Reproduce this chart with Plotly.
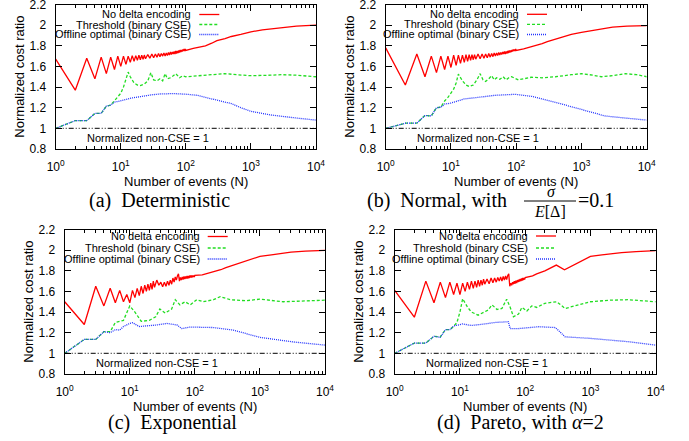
import plotly.graph_objects as go

W, H = 689, 441

# x values (number of events)
N_zig = list(range(1, 25)) + list(range(26, 101, 2))
N_tail = [130, 150, 200, 250, 300, 400, 500, 700, 1000, 1500, 2000, 3000, 5000, 7000, 10000]
red_n = N_zig + N_tail

# ---- (a) Deterministic
red_a = [1.67, 1.37, 1.68, 1.48, 1.69, 1.53, 1.69, 1.57, 1.70, 1.60, 1.70, 1.62, 1.70, 1.64, 1.705, 1.65,
         1.705, 1.66, 1.71, 1.665, 1.71, 1.67, 1.71, 1.675,
         1.715, 1.68, 1.72, 1.685, 1.72, 1.69, 1.725, 1.695, 1.725, 1.70, 1.73, 1.70, 1.73, 1.705, 1.735, 1.71,
         1.74, 1.715, 1.74, 1.72, 1.745, 1.72, 1.75, 1.725, 1.75, 1.73, 1.755, 1.735, 1.76, 1.74, 1.76, 1.745,
         1.765, 1.75, 1.77, 1.75, 1.77, 1.755,
         1.775, 1.785, 1.80, 1.825, 1.85, 1.87, 1.89, 1.91, 1.935, 1.955, 1.965, 1.978, 1.99, 1.995, 2.0]
green_n_a = [1, 2, 3, 4, 5, 6, 7, 8, 9, 10, 11, 12, 13, 14, 16, 18, 20, 23, 26, 29, 32, 36, 40, 44, 48, 52,
             58, 64, 70, 80, 90, 100, 150, 200, 300, 400, 600, 1000, 2000, 3000, 5000, 10000]
green_a = [1.0, 1.075, 1.075, 1.145, 1.145, 1.215, 1.225, 1.27, 1.30, 1.34, 1.40, 1.47, 1.545, 1.50, 1.44,
           1.42, 1.415, 1.43, 1.46, 1.54, 1.47, 1.46, 1.48, 1.46, 1.53, 1.48, 1.49, 1.51, 1.53, 1.49, 1.51,
           1.50, 1.51, 1.51, 1.52, 1.53, 1.52, 1.51, 1.515, 1.52, 1.515, 1.50]
blue_n_a = [1, 2, 3, 4, 5, 6, 7, 8, 9, 10, 12, 15, 20, 30, 40, 65, 100, 150, 200, 300, 500, 700, 1000,
            2000, 3000, 5000, 10000]
blue_a = [1.0, 1.075, 1.075, 1.145, 1.145, 1.215, 1.225, 1.255, 1.26, 1.265, 1.28, 1.295, 1.31, 1.325,
          1.333, 1.337, 1.331, 1.32, 1.30, 1.276, 1.24, 1.20, 1.165, 1.13, 1.115, 1.10, 1.08]

# ---- (b) Normal
red_b = [1.78, 1.42, 1.72, 1.50, 1.70, 1.54, 1.70, 1.57, 1.70, 1.59, 1.71, 1.61, 1.71, 1.63, 1.71, 1.64,
         1.715, 1.65, 1.715, 1.66, 1.715, 1.665, 1.715, 1.67,
         1.72, 1.675, 1.72, 1.68, 1.72, 1.685, 1.725, 1.69, 1.725, 1.695, 1.73, 1.70, 1.73, 1.705, 1.735, 1.71,
         1.735, 1.715, 1.74, 1.72, 1.745, 1.72, 1.745, 1.725, 1.75, 1.73, 1.755, 1.735, 1.755, 1.74, 1.76, 1.745,
         1.765, 1.75, 1.765, 1.75, 1.77, 1.755,
         1.77, 1.78, 1.80, 1.82, 1.84, 1.865, 1.885, 1.91, 1.93, 1.95, 1.965, 1.98, 1.99, 1.993, 1.995]
green_n_b = [1, 2, 3, 4, 5, 6, 7, 8, 9, 10, 11, 12, 13, 15, 17, 19, 22, 25, 28, 31, 34, 38, 42, 46, 50, 56,
             63, 70, 77, 85, 95, 108, 130, 170, 250, 400, 700, 1000, 1500, 2000, 3000, 4700, 7000, 10000]
green_b = [1.0, 1.05, 1.05, 1.125, 1.12, 1.20, 1.205, 1.265, 1.30, 1.34, 1.38, 1.44, 1.525, 1.46, 1.42,
           1.405, 1.42, 1.47, 1.53, 1.47, 1.455, 1.48, 1.51, 1.47, 1.49, 1.475, 1.50, 1.47, 1.49, 1.50,
           1.485, 1.47, 1.48, 1.495, 1.49, 1.50, 1.52, 1.53, 1.515, 1.50, 1.51, 1.53, 1.52, 1.50]
blue_n_b = [1, 2, 3, 4, 5, 6, 7, 8, 10, 16, 26, 47, 96, 173, 440, 1000, 2300, 4700, 10000]
blue_b = [1.0, 1.05, 1.05, 1.125, 1.12, 1.20, 1.205, 1.235, 1.245, 1.285, 1.30, 1.32, 1.33, 1.31, 1.245,
          1.18, 1.12, 1.10, 1.08]

# ---- (c) Exponential
red_c = [1.50, 1.28, 1.65, 1.46, 1.63, 1.49, 1.61, 1.50, 1.57, 1.49, 1.61, 1.54, 1.63, 1.56, 1.65, 1.58,
         1.66, 1.60, 1.67, 1.61, 1.68, 1.62, 1.70, 1.64,
         1.71, 1.66, 1.69, 1.645, 1.69, 1.65, 1.70, 1.66, 1.71, 1.67, 1.73, 1.69, 1.74, 1.71, 1.75, 1.77,
         1.70, 1.735, 1.71, 1.74, 1.715, 1.745, 1.72, 1.745, 1.725, 1.75, 1.725, 1.75, 1.73, 1.755, 1.735, 1.755,
         1.735, 1.755, 1.74, 1.755, 1.74, 1.755,
         1.76, 1.77, 1.79, 1.81, 1.83, 1.855, 1.875, 1.905, 1.94, 1.955, 1.965, 1.98, 1.99, 1.995, 1.997]
green_n_c = [1, 2, 3, 4, 5, 6, 8, 10, 12, 15, 20, 25, 29, 35, 44, 50, 59, 71, 85, 107, 135, 194, 245, 350,
             600, 1000, 2300, 5000, 10000]
green_c = [1.0, 1.135, 1.135, 1.21, 1.21, 1.30, 1.32, 1.46, 1.40, 1.31, 1.32, 1.355, 1.43, 1.39, 1.43, 1.52,
           1.47, 1.50, 1.47, 1.52, 1.50, 1.52, 1.55, 1.52, 1.51, 1.525, 1.50, 1.51, 1.515]
blue_n_c = [1, 2, 3, 4, 5, 6, 7, 8, 10, 11, 14, 18, 26, 37, 53, 63, 85, 194, 390, 1000, 3300, 10000]
blue_c = [1.0, 1.135, 1.135, 1.21, 1.20, 1.23, 1.225, 1.26, 1.29, 1.297, 1.26, 1.265, 1.275, 1.29, 1.275,
          1.24, 1.255, 1.25, 1.225, 1.155, 1.11, 1.08]

# ---- (d) Pareto
red_d = [1.61, 1.35, 1.70, 1.49, 1.69, 1.54, 1.69, 1.57, 1.68, 1.57, 1.68, 1.60, 1.69, 1.62, 1.70, 1.63,
         1.70, 1.64, 1.71, 1.65, 1.71, 1.66, 1.72, 1.67,
         1.72, 1.675, 1.73, 1.685, 1.73, 1.69, 1.735, 1.70, 1.74, 1.70, 1.745, 1.71, 1.75, 1.715, 1.755, 1.77,
         1.65, 1.68, 1.66, 1.69, 1.67, 1.70, 1.675, 1.705, 1.68, 1.71, 1.69, 1.715, 1.695, 1.72, 1.70, 1.725,
         1.705, 1.73, 1.71, 1.73, 1.715, 1.735,
         1.75, 1.77, 1.80, 1.83, 1.855, 1.81, 1.84, 1.89, 1.94, 1.955, 1.965, 1.975, 1.985, 1.99, 1.995]
green_n_d = [1, 2, 3, 4, 5, 6, 7, 8, 9, 10, 11, 13, 15, 19, 27, 31, 37, 44, 52, 59, 66, 79, 89, 106, 126,
             150, 200, 305, 410, 650, 1000, 2000, 3800, 10000]
green_d = [1.0, 1.10, 1.10, 1.165, 1.16, 1.23, 1.23, 1.26, 1.30, 1.40, 1.53, 1.45, 1.40, 1.37, 1.42, 1.47,
           1.425, 1.435, 1.525, 1.445, 1.355, 1.38, 1.445, 1.41, 1.46, 1.445, 1.485, 1.50, 1.435, 1.47,
           1.50, 1.515, 1.52, 1.50]
blue_n_d = [1, 2, 3, 4, 5, 6, 7, 8, 11, 15, 24, 35, 55, 59, 79, 160, 290, 410, 1000, 3800, 10000]
blue_d = [1.0, 1.10, 1.10, 1.165, 1.155, 1.23, 1.23, 1.265, 1.285, 1.27, 1.285, 1.30, 1.306, 1.24, 1.24,
          1.258, 1.25, 1.16, 1.145, 1.113, 1.08]

base_n = [1, 10000]
base_v = [1, 1]

series_names = ["No delta encoding", "Threshold (binary CSE)", "Offline optimal (binary CSE)"]
y_tickvals = [0.8, 1, 1.2, 1.4, 1.6, 1.8, 2, 2.2]
y_ticktext = ["0.8", "1", "1.2", "1.4", "1.6", "1.8", "2", "2.2"]
x_tickvals = [1, 10, 100, 1000, 10000]
x_ticktext = ["10<sup>0</sup>", "10<sup>1</sup>", "10<sup>2</sup>", "10<sup>3</sup>", "10<sup>4</sup>"]
x_minor = [m * 10 ** k for k in range(4) for m in range(2, 10)]

styles = [dict(color="#ff0000", width=1.3),
          dict(color="#22dd22", width=1.3, dash="3px,2px"),
          dict(color="#2233ff", width=1.3, dash="1px,1px")]

# plot frames in pixels: left, right, top, bottom, legend rows, legend text right edge
panels = [
    dict(l=55.7, r=316.0, t=4.5, b=149.0, rows=[10.0, 20.0, 30.0], lx=137.6,
         data=[(red_n, red_a), (green_n_a, green_a), (blue_n_a, blue_a)]),
    dict(l=385.7, r=646.7, t=4.5, b=149.0, rows=[9.8, 19.8, 30.0], lx=135.3,
         data=[(red_n, red_b), (green_n_b, green_b), (blue_n_b, blue_b)]),
    dict(l=64.7, r=325.0, t=229.5, b=374.0, rows=[7.0, 18.5, 29.5], lx=137.0,
         data=[(red_n, red_c), (green_n_c, green_c), (blue_n_c, blue_c)]),
    dict(l=394.7, r=655.7, t=229.5, b=374.0, rows=[6.5, 18.5, 29.5], lx=135.3,
         data=[(red_n, red_d), (green_n_d, green_d), (blue_n_d, blue_d)]),
]

def px(x):
    return x / W

def py(y):
    return 1 - y / H

fig = go.Figure()
annotations = []
shapes = []
sans = "Liberation Sans, Arial, sans-serif"
serif = "Liberation Serif, Times New Roman, serif"

for i, p in enumerate(panels):
    sfx = "" if i == 0 else str(i + 1)
    xa, ya = "x" + sfx, "y" + sfx
    for (n, v), st, nm in zip(p["data"], styles, series_names):
        fig.add_trace(go.Scatter(x=n, y=v, mode="lines", line=st, name=nm,
                                 showlegend=False, xaxis=xa, yaxis=ya))
    fig.add_trace(go.Scatter(x=base_n, y=base_v, mode="lines", showlegend=False,
                             line=dict(color="#333333", width=1.2, dash="5px,2px,1px,2px,1px,2px"),
                             xaxis=xa, yaxis=ya))
    fig.layout["xaxis" + sfx] = dict(
        domain=[px(p["l"]), px(p["r"])], anchor=ya, type="log", range=[0, 4], automargin=False,
        showline=True, linecolor="black", linewidth=1, mirror="ticks",
        ticks="inside", ticklen=6, tickcolor="black", tickvals=x_tickvals, ticktext=x_ticktext,
        ticklabelstandoff=7, ticklabeloverflow="allow",
        tickfont=dict(family=sans, size=12, color="black"), showgrid=False, zeroline=False,
        minor=dict(ticks="inside", ticklen=3, tickcolor="black", tickvals=x_minor, showgrid=False))
    fig.layout["yaxis" + sfx] = dict(
        domain=[py(p["b"]), py(p["t"])], anchor=xa, range=[0.8, 2.2], automargin=False,
        showline=True, linecolor="black", linewidth=1, mirror="ticks",
        ticks="inside", ticklen=6, tickcolor="black", tickvals=y_tickvals, ticktext=y_ticktext,
        ticklabelstandoff=6, ticklabeloverflow="allow",
        tickfont=dict(family=sans, size=12, color="black"), showgrid=False, zeroline=False)

    w = p["r"] - p["l"]
    h = p["b"] - p["t"]
    # manual legend (gnuplot style: text then sample)
    for row, st, nm in zip(p["rows"], styles, series_names):
        yy = py(p["t"] + row)
        annotations.append(dict(text=nm, x=px(p["l"] + p["lx"]), y=yy, xanchor="right",
                                font=dict(family=sans, size=11, color="black")))
        shapes.append(dict(type="line", xref="paper", yref="paper",
                           x0=px(p["l"] + p["lx"] + 6), x1=px(p["l"] + p["lx"] + 26), y0=yy, y1=yy,
                           line=st))
    annotations.append(dict(text="Normalized non-CSE = 1", x=px(p["l"] + 92), y=py(p["t"] + 133.5),
                            xanchor="center", font=dict(family=sans, size=11, color="black")))
    annotations.append(dict(text="Normalized cost ratio", x=px(p["l"] - 35.8), y=py(p["t"] + h / 2),
                            xanchor="center", textangle=-90,
                            font=dict(family=sans, size=13, color="black")))
    annotations.append(dict(text="Number of events (N)", x=px(p["l"] + w / 2), y=py(p["b"] + 32.7),
                            xanchor="center", font=dict(family=sans, size=13, color="black")))

cap_font = dict(family=serif, size=20, color="black")
frac_font = dict(family=serif, size=16, color="black")
annotations += [
    dict(text="(a)  Deterministic", x=px(87), y=py(200), xanchor="left", font=cap_font),
    dict(text="(b)  Normal, with", x=px(365), y=py(200), xanchor="left", font=cap_font),
    dict(text="<i>σ</i>", x=px(551), y=py(191.5), xanchor="center", font=frac_font),
    dict(text="<i>E</i>[Δ]", x=px(550), y=py(211.5), xanchor="center", font=frac_font),
    dict(text="=0.1", x=px(576), y=py(200), xanchor="left", font=cap_font),
    dict(text="(c)  Exponential", x=px(106), y=py(422), xanchor="left", font=cap_font),
    dict(text="(d)  Pareto, with <i>α</i>=2", x=px(435), y=py(422), xanchor="left", font=cap_font),
]
for a in annotations:
    a.update(xref="paper", yref="paper", showarrow=False, yanchor="middle")
shapes.append(dict(type="line", xref="paper", yref="paper", x0=px(524), x1=px(576), y0=py(201), y1=py(201),
                   line=dict(color="black", width=1)))

fig.update_layout(width=W, height=H, margin=dict(l=0, r=0, t=0, b=0),
                  paper_bgcolor="white", plot_bgcolor="white",
                  annotations=annotations, shapes=shapes, showlegend=False)

fig.write_html("out.html", config={"displayModeBar": False},
               post_script="document.body.style.margin='0';")
